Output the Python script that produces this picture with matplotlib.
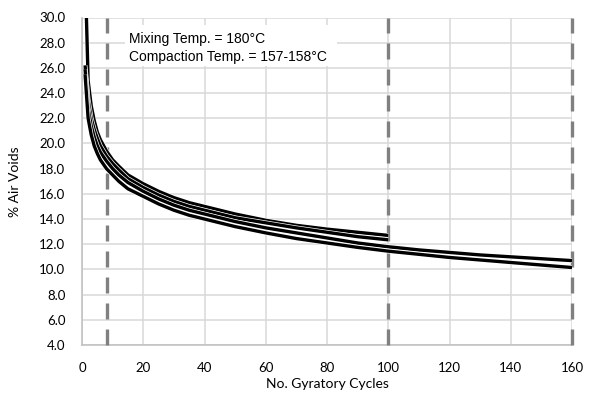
import matplotlib
matplotlib.use("Agg")
import matplotlib.pyplot as plt
import matplotlib.patheffects as pe
from matplotlib.patches import Rectangle

# ---- data ----
cyc_a = [1, 2, 3, 4, 5, 6, 8, 10, 12, 15, 20, 25, 30, 35, 40, 50, 60, 70, 80, 90, 100]
void_a = [34.0, 25.0, 23.0, 21.8, 20.9, 20.3, 19.4, 18.7, 18.2, 17.5, 16.8, 16.2,
          15.7, 15.3, 15.0, 14.4, 13.9, 13.5, 13.2, 12.95, 12.7]

cyc_b = [1, 2, 3, 4, 5, 6, 8, 10, 12, 15, 20, 25, 30, 35, 40, 50, 60, 70, 80, 90, 100]
void_b = [26.2, 23.5, 22.0, 21.1, 20.4, 19.8, 19.0, 18.4, 17.9, 17.2, 16.5, 15.9,
          15.4, 15.0, 14.7, 14.1, 13.7, 13.3, 12.95, 12.6, 12.35]

cyc_c = [1, 2, 3, 4, 5, 6, 8, 10, 12, 15, 20, 25, 30, 35, 40, 50, 60, 70, 80, 90, 100,
         110, 120, 130, 140, 150, 160]
void_c = [25.9, 22.8, 21.4, 20.5, 19.8, 19.3, 18.6, 18.0, 17.5, 16.9, 16.2, 15.6,
          15.1, 14.7, 14.4, 13.8, 13.3, 12.9, 12.5, 12.1, 11.8,
          11.55, 11.35, 11.15, 11.0, 10.85, 10.7]

cyc_d = [1, 2, 3, 4, 5, 6, 8, 10, 12, 15, 20, 25, 30, 35, 40, 50, 60, 70, 80, 90, 100,
         110, 120, 130, 140, 150, 160]
void_d = [25.5, 22.0, 20.7, 19.8, 19.2, 18.7, 18.0, 17.5, 17.0, 16.4, 15.8, 15.2,
          14.7, 14.3, 14.0, 13.4, 12.9, 12.45, 12.1, 11.75, 11.45,
          11.2, 10.95, 10.75, 10.55, 10.35, 10.15]

marker_cycles = [8, 100, 160]

x_ticks = [0, 20, 40, 60, 80, 100, 120, 140, 160]
y_ticks = [4, 6, 8, 10, 12, 14, 16, 18, 20, 22, 24, 26, 28, 30]

note_lines = ["Mixing Temp. = 180\u00b0C", "Compaction Temp. = 157-158\u00b0C"]
x_label = "No. Gyratory Cycles"
y_label = "% Air Voids"

# ---- figure ----
fig = plt.figure(figsize=(5.92, 3.94), dpi=100)
ax = fig.add_axes([82 / 592, 1 - 345 / 394, (572 - 82) / 592, (345 - 17.5) / 394])

grid_c = "#d9d9d9"
ax.set_xlim(0, 160)
ax.set_ylim(4, 30)
ax.set_xticks(x_ticks)
ax.set_yticks(y_ticks)
ax.set_xticklabels([str(v) for v in x_ticks])
ax.set_yticklabels([f"{v:.1f}" for v in y_ticks])
ax.grid(True, color=grid_c, linewidth=1.1, zorder=0)
ax.set_axisbelow(True)
for s in ["top", "right"]:
    ax.spines[s].set_visible(False)
for s in ["left", "bottom"]:
    ax.spines[s].set_color("#bfbfbf")
    ax.spines[s].set_linewidth(1.1)
ax.tick_params(length=0, pad=12, labelsize=9.5, labelcolor="#000000")
for lab in ax.get_xticklabels() + ax.get_yticklabels():
    lab.set_family(["Lato", "DejaVu Sans"])

# text box (white background hiding grid)
ax.add_patch(Rectangle((14.0, 26.15), 69.3, 3.25, facecolor="white",
                       edgecolor="none", zorder=2))
ax.text(15.5, 28.85, "\n".join(note_lines),
        ha="left", va="top", fontsize=10, family=["Liberation Sans", "DejaVu Sans"],
        linespacing=1.4, zorder=3)

# dashed reference lines
for xc in marker_cycles:
    ax.axvline(xc, color="#808080", linewidth=2.4, linestyle=(0, (4.8, 3.0)),
               zorder=4, clip_on=False)

# curves
eff = [pe.Stroke(linewidth=3.4, foreground="white"), pe.Normal()]
for cx, vy in [(cyc_a, void_a), (cyc_b, void_b), (cyc_c, void_c), (cyc_d, void_d)]:
    ax.plot(cx, vy, color="black", linewidth=2.4, solid_capstyle="butt",
            solid_joinstyle="round", zorder=5, path_effects=eff)

ax.set_xlabel(x_label, fontsize=10, family=["Lato", "DejaVu Sans"], labelpad=3)
ax.set_ylabel(y_label, fontsize=10, family=["Lato", "DejaVu Sans"], labelpad=13)

fig.savefig("out.png", dpi=100)
